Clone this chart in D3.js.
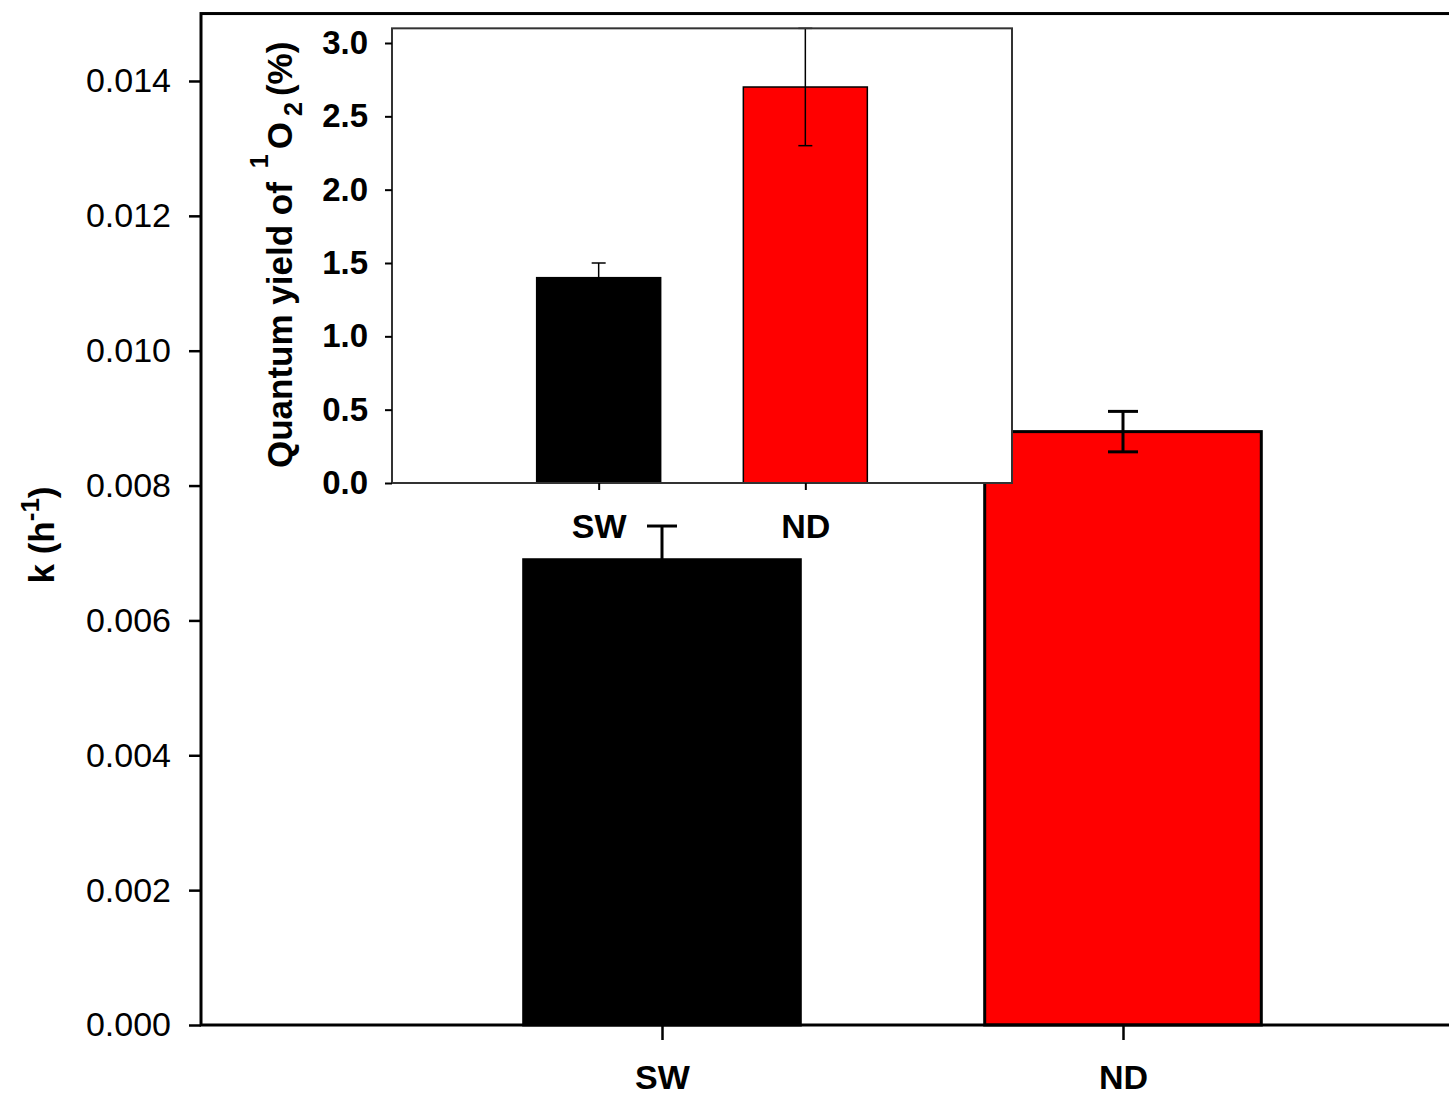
<!DOCTYPE html>
<html>
  <head>
    <meta charset="utf-8">
    <title>k and quantum yield</title>
    <script src="https://d3js.org/d3.v7.min.js"></script>
    <style>
      body { margin: 0; background: #fff; }
      text { font-family: "Liberation Sans", Arial, sans-serif; }
    </style>
  </head>
  <body>
    <div id="vis"></div>
    <script>
        // main chart data
        const categories = ["SW", "ND"];
        const kValues = [0.0069, 0.0088];
        const kErrors = [0.0005, 0.0003];
        const kTicks = [0, 0.002, 0.004, 0.006, 0.008, 0.010, 0.012, 0.014];

        // inset data
        const qyValues = [1.40, 2.70];
        const qyErrors = [0.10, 0.40];
        const qyTicks = [0, 0.5, 1.0, 1.5, 2.0, 2.5, 3.0];

        const barColors = ["#000000", "#ff0000"];

        const width = 1449;
        const height = 1097;

        const svg = d3.select("#vis").append("svg")
          .attr("width", width).attr("height", height);

        // ---------- main chart ----------
        const x = d3.scaleLinear().domain([0, 3]).range([201, 1584]);
        const y = d3.scaleLinear().domain([0, 0.015]).range([1025, 1025 - 0.015 / 0.002 * 134.86]);
        const step = x(1) - x(0);
        const barW = step * 0.6;

        const main = svg.append("g");

        main.selectAll("rect.bar")
          .data(kValues)
          .enter()
          .append("rect")
          .attr("class", "bar")
          .attr("x", (d, i) => x(i + 1) - barW / 2)
          .attr("y", d => y(d))
          .attr("width", barW)
          .attr("height", d => y(0) - y(d))
          .attr("fill", (d, i) => barColors[i])
          .attr("stroke", "#000")
          .attr("stroke-width", 3);

        // error bars
        const err = main.append("g").attr("stroke", "#000").attr("stroke-width", 3);
        kValues.forEach(function(v, i){
          const cx = x(i + 1);
          err.append("line").attr("x1", cx).attr("x2", cx)
            .attr("y1", y(v - kErrors[i])).attr("y2", y(v + kErrors[i]));
          [v - kErrors[i], v + kErrors[i]].forEach(function(e){
            err.append("line").attr("x1", cx - 15).attr("x2", cx + 15)
              .attr("y1", y(e)).attr("y2", y(e));
          });
        });

        // frame
        main.append("rect")
          .attr("x", x(0)).attr("y", y(0.015))
          .attr("width", x(3) - x(0)).attr("height", y(0) - y(0.015))
          .attr("fill", "none").attr("stroke", "#000").attr("stroke-width", 3);

        const yAxis = d3.axisLeft(y).tickValues(kTicks).tickSize(12).tickSizeOuter(0)
          .tickPadding(18).tickFormat(d3.format(".3f"));
        const gy = main.append("g").attr("transform", `translate(${x(0)},0)`).call(yAxis);
        gy.select(".domain").remove();
        gy.selectAll(".tick line").attr("stroke", "#000").attr("stroke-width", 2.5);
        gy.selectAll(".tick text").attr("font-size", 34).attr("fill", "#000")
          .attr("font-family", "Liberation Sans, Arial, sans-serif");

        const xAxis = d3.axisBottom(x).tickValues([1, 2]).tickSize(15).tickSizeOuter(0)
          .tickPadding(25).tickFormat((d, i) => categories[i]);
        const gx = main.append("g").attr("transform", `translate(0,${y(0)})`).call(xAxis);
        gx.select(".domain").remove();
        gx.selectAll(".tick line").attr("stroke", "#000").attr("stroke-width", 2.5);
        gx.selectAll(".tick text").attr("font-size", 34).attr("font-weight", "bold").attr("fill", "#000")
          .attr("font-family", "Liberation Sans, Arial, sans-serif");

        const kLabel = main.append("text")
          .attr("transform", "translate(54,535) rotate(-90)")
          .attr("text-anchor", "middle")
          .attr("font-size", 35).attr("font-weight", "bold");
        kLabel.append("tspan").text("k (h");
        kLabel.append("tspan").attr("dy", -15).attr("font-size", 26).text("-1");
        kLabel.append("tspan").attr("dy", 15).text(")");

        // ---------- inset ----------
        const ix = d3.scaleLinear().domain([0, 3]).range([392, 1012]);
        const iy = d3.scaleLinear().domain([0, 3.1]).range([483, 483 - 3.1 / 3 * 440]);
        const iStep = ix(1) - ix(0);
        const iBarW = iStep * 0.6;

        const inset = svg.append("g");

        inset.append("rect")
          .attr("x", ix(0)).attr("y", iy(3.1))
          .attr("width", ix(3) - ix(0)).attr("height", iy(0) - iy(3.1))
          .attr("fill", "#fff");

        inset.selectAll("rect.ibar")
          .data(qyValues)
          .enter()
          .append("rect")
          .attr("class", "ibar")
          .attr("x", (d, i) => ix(i + 1) - iBarW / 2)
          .attr("y", d => iy(d))
          .attr("width", iBarW)
          .attr("height", d => iy(0) - iy(d))
          .attr("fill", (d, i) => barColors[i])
          .attr("stroke", "#000")
          .attr("stroke-width", 1.5);

        const ierr = inset.append("g").attr("stroke", "#000").attr("stroke-width", 1.5);
        qyValues.forEach(function(v, i){
          const cx = ix(i + 1);
          ierr.append("line").attr("x1", cx).attr("x2", cx)
            .attr("y1", iy(v - qyErrors[i])).attr("y2", iy(v + qyErrors[i]));
          [v - qyErrors[i], v + qyErrors[i]].forEach(function(e){
            ierr.append("line").attr("x1", cx - 7).attr("x2", cx + 7)
              .attr("y1", iy(e)).attr("y2", iy(e));
          });
        });

        inset.append("rect")
          .attr("x", ix(0)).attr("y", iy(3.1))
          .attr("width", ix(3) - ix(0)).attr("height", iy(0) - iy(3.1))
          .attr("fill", "none").attr("stroke", "#333").attr("stroke-width", 2);

        const iyAxis = d3.axisLeft(iy).tickValues(qyTicks).tickSize(7).tickSizeOuter(0)
          .tickPadding(17).tickFormat(d3.format(".1f"));
        const igy = inset.append("g").attr("transform", `translate(${ix(0)},0)`).call(iyAxis);
        igy.select(".domain").remove();
        igy.selectAll(".tick line").attr("stroke", "#000").attr("stroke-width", 2);
        igy.selectAll(".tick text").attr("font-size", 33).attr("font-weight", "bold").attr("fill", "#000")
          .attr("font-family", "Liberation Sans, Arial, sans-serif");

        const ixAxis = d3.axisBottom(ix).tickValues([1, 2]).tickSize(7).tickSizeOuter(0)
          .tickPadding(24).tickFormat((d, i) => categories[i]);
        const igx = inset.append("g").attr("transform", `translate(0,${iy(0)})`).call(ixAxis);
        igx.select(".domain").remove();
        igx.selectAll(".tick line").attr("stroke", "#000").attr("stroke-width", 2);
        igx.selectAll(".tick text").attr("font-size", 34).attr("font-weight", "bold").attr("fill", "#000")
          .attr("font-family", "Liberation Sans, Arial, sans-serif");

        const qLabel = inset.append("text")
          .attr("transform", "translate(292,468) rotate(-90)")
          .attr("text-anchor", "start")
          .attr("font-size", 35).attr("font-weight", "bold");
        qLabel.append("tspan").text("Quantum yield of");
        qLabel.append("tspan").attr("dx", 14).attr("dy", -24).attr("font-size", 25).text("1");
        qLabel.append("tspan").attr("dx", 5).attr("dy", 24).text("O");
        qLabel.append("tspan").attr("dx", 6).attr("dy", 10).attr("font-size", 25).text("2");
        qLabel.append("tspan").attr("dx", 6).attr("dy", -10).text("(%)");
    </script>
  </body>
</html>
